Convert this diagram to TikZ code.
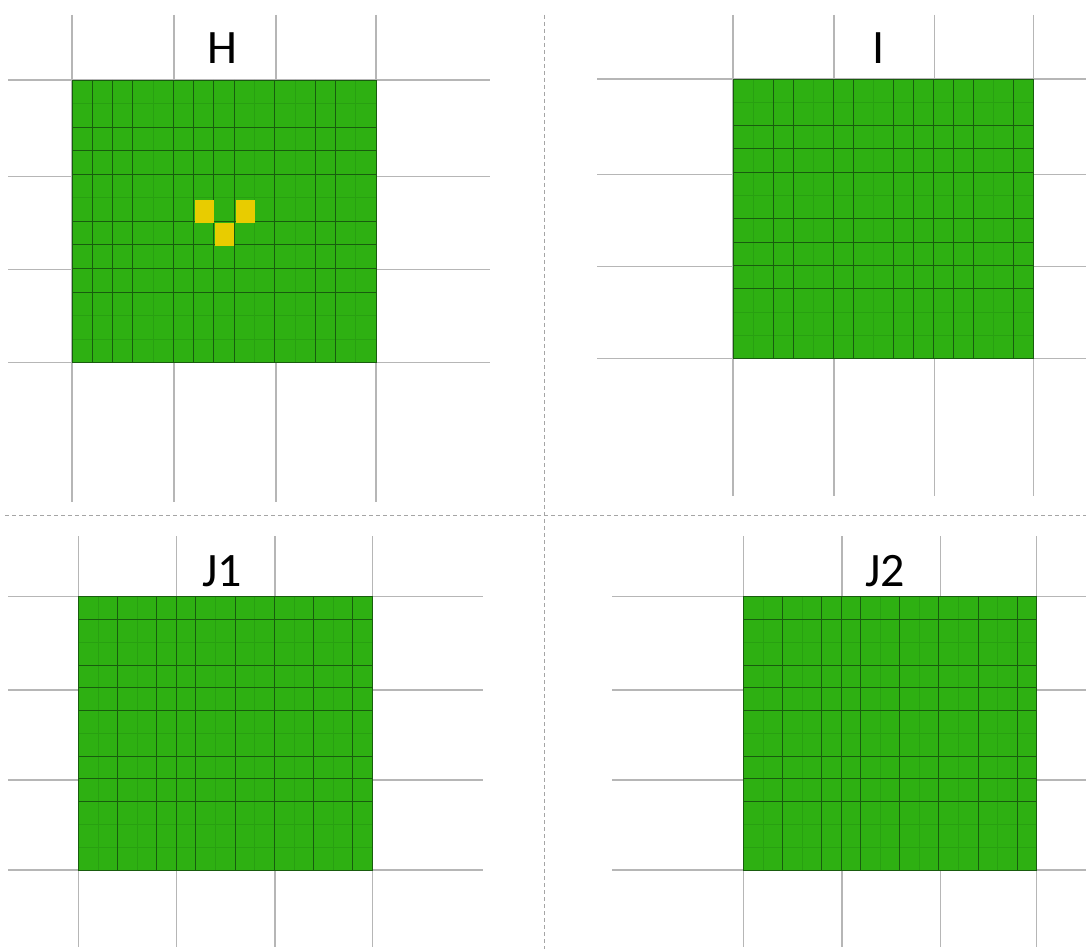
\documentclass[tikz,border=0pt]{standalone}
\usepackage{fontspec}
\setmainfont{Carlito}
\definecolor{cellgreen}{RGB}{46,176,18}
\definecolor{cellyellow}{RGB}{232,204,0}
\definecolor{meshdark}{RGB}{24,92,14}
\definecolor{meshfaint}{RGB}{40,160,17}
\definecolor{gridgrey}{RGB}{182,182,182}
\definecolor{sepgrey}{RGB}{165,165,165}
\tikzset{
  gridline/.style={draw=gridgrey, line width=1.3pt},
  sepline/.style={draw=sepgrey, line width=0.9pt, dash pattern=on 4pt off 3pt},
  patch/.style={fill=cellgreen},
  patchedge/.style={draw=meshdark, line width=0.8pt},
  meshstrong/.style={draw=meshdark, line width=0.9pt},
  meshweak/.style={draw=meshfaint, line width=0.6pt},
  seed/.style={fill=cellyellow},
  paneltitle/.style={font=\fontsize{48}{56}\selectfont, anchor=base, inner sep=0pt, text=black}
}
% #1 x0, #2 y0, #3 x1, #4 y1, #5 strong columns, #6 weak columns, #7 strong rows, #8 weak rows
\newcommand\meshpanel[8]{%
  \path[patch] (#1,#2) rectangle (#3,#4);
  \foreach \k in {#6} {\pgfmathsetmacro\xx{#1+\k*(#3-#1)/15}\draw[meshweak] (\xx,#2) -- (\xx,#4);}
  \foreach \k in {#8} {\pgfmathsetmacro\yy{#2+\k*(#4-#2)/12}\draw[meshweak] (#1,\yy) -- (#3,\yy);}
  \foreach \k in {#5} {\pgfmathsetmacro\xx{#1+\k*(#3-#1)/15}\draw[meshstrong] (\xx,#2) -- (\xx,#4);}
  \foreach \k in {#7} {\pgfmathsetmacro\yy{#2+\k*(#4-#2)/12}\draw[meshstrong] (#1,\yy) -- (#3,\yy);}
  \path[patchedge] (#1,#2) rectangle (#3,#4);
}
\begin{document}
\begin{tikzpicture}[x=1pt,y=-1pt]
\useasboundingbox (0,0) rectangle (1086,949);
\fill[white] (0,0) rectangle (1086,949);

% separators
\draw[sepline] (544,15) -- (544,949);
\draw[sepline] (5,515) -- (1086,515);

% ---------- grey grids ----------
% H
\foreach \x in {72,174,276,376} \draw[gridline] (\x,15) -- (\x,502);
\foreach \y in {80,176.7,269.3,362.7} \draw[gridline] (8,\y) -- (490,\y);
% I
\foreach \x in {733,834,934.5,1033.3} \draw[gridline] (\x,15) -- (\x,496);
\foreach \y in {79,174.7,266.7,358.7} \draw[gridline] (597,\y) -- (1086,\y);
% J1
\foreach \x in {78.3,176.7,275,372.3} \draw[gridline] (\x,536) -- (\x,947);
\foreach \y in {596.7,690,780,870} \draw[gridline] (8,\y) -- (483,\y);
% J2
\foreach \x in {743.3,842,940.3,1036.7} \draw[gridline] (\x,536) -- (\x,947);
\foreach \y in {596.7,690,780,870} \draw[gridline] (612,\y) -- (1086,\y);

% ---------- green meshes ----------
\meshpanel{72}{80}{376}{362.7}{1,2,3,5,6,7,8,10,12,13}{4,9,11,14}{2,3,4,6,7,8,9}{1,5,10,11}
\meshpanel{733}{79}{1033.3}{358.7}{2,3,5,6,8,9,10,11,12,14}{1,4,7,13}{2,3,4,6,7,8,9}{1,5,10,11}
\meshpanel{78.3}{596.7}{372.3}{870}{2,4,5,6,8,10,12,14}{1,3,7,9,11,13}{1,3,4,5,7,8,9}{2,6,10,11}
\meshpanel{743.3}{596.7}{1036.7}{870}{2,4,5,6,8,10,12,14}{1,3,7,9,11,13}{1,3,4,5,7,8,9}{2,6,10,11}

% yellow cells in H
\fill[seed] (194.7,200) rectangle (214,222.7);
\fill[seed] (235.7,200) rectangle (255,222.7);
\fill[seed] (215,223.3) rectangle (234.3,246);

% ---------- titles ----------
\node[paneltitle] (titleH) at (222.5,63.5) {H};
\node[paneltitle] (titleI) at (879,63.5) {I};
\node[paneltitle] (titleJa) at (222,586) {J1};
\node[paneltitle] (titleJb) at (885,586) {J2};
\end{tikzpicture}
\end{document}
